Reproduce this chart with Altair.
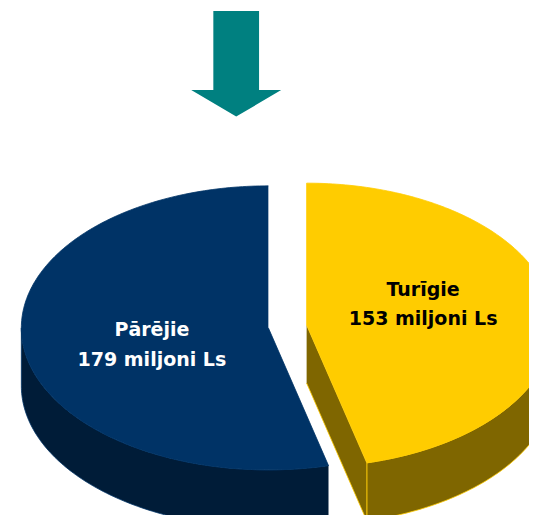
import math
import numpy as np
import pandas as pd
import altair as alt

# ---- data ----
labels = ["Turīgie", "Pārējie"]
values = [153, 179]
unit = "miljoni Ls"

# ---- style ----
top_colors = {"Turīgie": "#FFCC00", "Pārējie": "#003366"}
side_colors = {"Turīgie": "#7F6600", "Pārējie": "#001C38"}
text_colors = {"Turīgie": "#000000", "Pārējie": "#FFFFFF"}
label_dy = {"Turīgie": -21, "Pārējie": 0}

W, H = 521, 507
CX, CY = 287.5, 326.5      # pie base centre (reference pixel space)
A, B = 247.0, 142.0        # ellipse semi-axes
DEPTH = 58.0
EXPLODE = 19.3
LABEL_R = 0.475
N = 360


def pt(cx, cy, t, r=1.0):
    return cx + A * r * math.sin(t), cy - B * r * math.cos(t)


total = sum(values)
rows, label_rows, parts = [], [], []
start = 0.0
for lab, v in zip(labels, values):
    end = start + 2 * math.pi * v / total
    mid = (start + end) / 2
    cx, cy = pt(CX, CY, mid, EXPLODE / A)

    def add(part, pts, lab=lab):
        for i, (x, y) in enumerate(pts):
            rows.append(dict(slice=lab, part=part, i=i, x=x, y=y))
        parts.append((lab, part))

    def arc(t0, t1, dy=0.0, cx=cx, cy=cy):
        n = max(2, int(N * (t1 - t0) / (2 * math.pi)) + 1)
        out = []
        for t in np.linspace(t0, t1, n):
            x, y = pt(cx, cy, t)
            out.append((x, y + dy))
        return out

    s0, s1 = max(start, math.pi / 2), min(end, 3 * math.pi / 2)
    if s1 > s0:
        add("side", arc(s0, s1) + arc(s0, s1, DEPTH)[::-1])
    for k, (t, sign) in enumerate(((end, 1), (start, -1))):
        if sign * math.sin(t) > 1e-6:
            px, py = pt(cx, cy, t)
            add("face%d" % k, [(cx, cy), (px, py), (px, py + DEPTH), (cx, cy + DEPTH)])
    add("top", [(cx, cy)] + arc(start, end))
    lx, ly = pt(cx, cy, mid, LABEL_R)
    label_rows.append(dict(slice=lab, text=f"{lab}\n{v} {unit}", x=lx, y=ly))
    start = end

shapes = pd.DataFrame(rows)
label_df = pd.DataFrame(label_rows)

xs = alt.Scale(domain=[8, 8 + W], nice=False, zero=False)
ys = alt.Scale(domain=[8, 8 + H], nice=False, zero=False, reverse=True)

layers = []
for lab, part in parts:
    if part == "top":
        fill, stroke = top_colors[lab], top_colors[lab]
    else:
        fill, stroke = side_colors[lab], top_colors[lab]
    layers.append(
        alt.Chart(shapes)
        .transform_filter((alt.datum.slice == lab) & (alt.datum.part == part))
        .mark_line(fill=fill, stroke=stroke, strokeWidth=0.8, interpolate="linear")
        .encode(
            x=alt.X("x:Q", scale=xs, axis=None),
            y=alt.Y("y:Q", scale=ys, axis=None),
            order="i:Q",
        )
    )

for lab in labels:
    layers.append(
        alt.Chart(label_df)
        .transform_filter(alt.datum.slice == lab)
        .mark_text(
            font="DejaVu Sans", fontSize=19, fontWeight="bold", align="center",
            baseline="alphabetic", lineBreak="\n", lineHeight=29.5,
            dy=label_dy[lab], color=text_colors[lab],
        )
        .encode(
            x=alt.X("x:Q", scale=xs, axis=None),
            y=alt.Y("y:Q", scale=ys, axis=None),
            text="text:N",
        )
    )

ARROW = "M-0.433,-1 L0.433,-1 L0.433,0.496 L0.852,0.496 L0,1 L-0.852,0.496 L-0.433,0.496 Z"
arrow = (
    alt.Chart(pd.DataFrame({"k": [0]}))
    .mark_point(shape=ARROW, size=11151, filled=True, fill="#008080",
                strokeWidth=0, opacity=1)
    .encode(x=alt.value(228.2), y=alt.value(55.8))
)
layers.append(arrow)

chart = (
    alt.layer(*layers)
    .properties(width=W, height=H, padding=0, autosize="none")
    .configure_view(stroke=None)
)
chart.save("out.html", embed_options={"renderer": "svg", "actions": False})
